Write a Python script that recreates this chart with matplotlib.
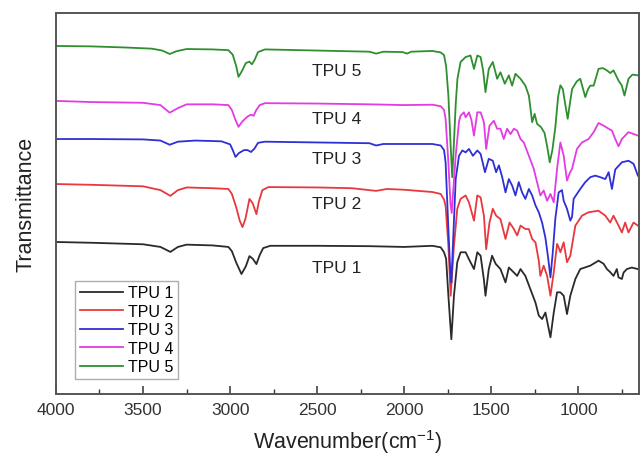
import numpy as np
import matplotlib.pyplot as plt

# FTIR spectra of the TPU samples, (wavenumber cm-1, transmittance a.u.)
tpu1 = [(4000, 39.9), (3800, 39.7), (3500, 39.3), (3400, 38.6), (3343, 37.3), (3300, 38.6), (3250, 39.2),
        (3100, 39.0), (3010, 38.6), (2990, 37.5), (2965, 34.5), (2935, 31.5), (2910, 33.5), (2889, 36.2),
        (2870, 35.5), (2849, 34.1), (2830, 36.5), (2810, 38.3), (2770, 38.9), (2500, 38.9), (2200, 38.8),
        (2000, 38.6), (1839, 38.9), (1791, 38.5), (1772, 37.2), (1760, 35.5), (1747, 25.8), (1730, 14.4),
        (1715, 25.8), (1696, 34.6), (1677, 37.2), (1648, 37.2), (1629, 35.4), (1600, 32.8), (1581, 37.2),
        (1562, 36.3), (1543, 30.0), (1534, 25.8), (1515, 32.8), (1496, 36.3), (1476, 34.2), (1448, 32.8),
        (1419, 29.3), (1400, 33.2), (1371, 31.9), (1352, 31.0), (1333, 32.8), (1305, 31.0), (1276, 27.5),
        (1247, 24.0), (1228, 20.6), (1209, 19.7), (1190, 21.4), (1161, 14.9), (1142, 21.4), (1123, 26.7),
        (1104, 26.7), (1085, 25.8), (1066, 21.0), (1047, 25.8), (1018, 30.2), (990, 32.8), (932, 33.7),
        (885, 35.0), (856, 34.2), (837, 32.8), (818, 32.0), (799, 31.0), (780, 32.8), (770, 30.6),
        (751, 30.2), (741, 31.9), (722, 32.8), (694, 33.2), (659, 32.8)]

tpu2 = [(4000, 55.1), (3800, 54.9), (3500, 54.5), (3400, 53.5), (3343, 52.0), (3300, 53.5), (3250, 54.2),
        (3100, 54.0), (3010, 53.8), (2990, 52.5), (2965, 49.0), (2945, 45.5), (2929, 43.8), (2912, 46.0),
        (2889, 51.2), (2870, 50.0), (2849, 47.2), (2835, 50.5), (2815, 53.5), (2780, 54.3), (2500, 54.2),
        (2300, 54.0), (2162, 53.3), (2100, 53.8), (2000, 53.6), (1839, 53.0), (1791, 52.5), (1772, 51.0),
        (1763, 49.4), (1747, 38.9), (1734, 25.8), (1715, 38.9), (1696, 48.6), (1677, 51.2), (1648, 52.1),
        (1629, 50.3), (1600, 45.5), (1581, 52.1), (1562, 51.6), (1543, 46.8), (1530, 38.0), (1511, 45.0),
        (1492, 48.6), (1473, 46.8), (1448, 45.9), (1419, 40.7), (1396, 45.0), (1371, 43.3), (1352, 41.6),
        (1333, 44.2), (1305, 43.3), (1285, 43.3), (1266, 40.7), (1247, 39.8), (1228, 35.0), (1219, 31.0),
        (1200, 33.7), (1180, 31.0), (1161, 25.8), (1142, 32.0), (1123, 39.4), (1114, 38.5), (1104, 37.2),
        (1085, 39.8), (1066, 34.6), (1047, 36.3), (1018, 44.2), (980, 46.8), (942, 47.7), (885, 48.1),
        (846, 46.8), (818, 45.0), (799, 46.8), (770, 44.2), (751, 42.4), (732, 45.0), (713, 42.4),
        (684, 45.0), (659, 44.2)]

tpu3 = [(4000, 66.9), (3800, 66.9), (3500, 66.8), (3400, 66.5), (3347, 65.4), (3300, 66.2), (3200, 66.5),
        (3050, 66.3), (3000, 65.5), (2985, 64.0), (2969, 62.2), (2950, 63.2), (2920, 64.0), (2900, 64.0),
        (2880, 63.5), (2860, 64.4), (2840, 65.9), (2800, 66.2), (2500, 66.0), (2200, 65.8), (2162, 65.2),
        (2120, 65.6), (2000, 65.6), (1839, 65.6), (1791, 65.2), (1772, 64.0), (1763, 60.8), (1747, 43.3),
        (1736, 32.0), (1730, 29.3), (1720, 40.0), (1705, 56.4), (1686, 62.5), (1667, 63.9), (1648, 63.4),
        (1629, 64.3), (1606, 62.5), (1581, 63.9), (1562, 63.0), (1537, 58.2), (1515, 61.7), (1492, 61.2),
        (1473, 58.2), (1457, 60.0), (1438, 56.9), (1419, 52.9), (1400, 56.4), (1381, 54.7), (1362, 52.1),
        (1343, 55.6), (1324, 52.9), (1305, 51.2), (1285, 53.8), (1266, 52.1), (1247, 49.5), (1228, 47.7),
        (1209, 45.0), (1190, 41.0), (1175, 36.0), (1161, 30.6), (1148, 37.0), (1133, 46.0), (1114, 52.9),
        (1095, 53.5), (1085, 50.7), (1066, 48.6), (1047, 45.5), (1037, 46.5), (1028, 51.2), (1009, 52.5),
        (990, 53.8), (961, 55.6), (932, 56.9), (904, 57.3), (875, 56.9), (846, 56.4), (827, 58.2),
        (808, 53.8), (789, 58.9), (751, 60.8), (713, 61.2), (684, 60.4), (659, 57.3)]

tpu4 = [(4000, 76.9), (3800, 76.6), (3500, 76.4), (3400, 75.8), (3347, 73.8), (3300, 75.0), (3250, 76.0),
        (3100, 76.0), (3010, 75.8), (2990, 74.5), (2970, 72.0), (2952, 70.1), (2930, 71.5), (2900, 72.8),
        (2880, 73.3), (2865, 73.0), (2850, 74.5), (2830, 75.8), (2800, 76.3), (2500, 76.2), (2200, 76.0),
        (2000, 75.8), (1839, 75.9), (1791, 75.5), (1772, 74.5), (1763, 72.2), (1747, 60.8), (1735, 50.0),
        (1728, 47.5), (1718, 54.0), (1705, 62.5), (1686, 71.5), (1677, 73.0), (1658, 73.9), (1648, 72.6),
        (1629, 73.9), (1615, 72.0), (1600, 67.8), (1590, 71.0), (1581, 73.9), (1562, 73.9), (1543, 71.3),
        (1530, 64.3), (1511, 70.4), (1486, 71.7), (1467, 69.6), (1448, 69.6), (1429, 66.9), (1410, 69.6),
        (1390, 68.2), (1371, 69.6), (1352, 69.1), (1333, 66.9), (1314, 66.0), (1285, 62.5), (1257, 59.1),
        (1238, 55.6), (1219, 52.1), (1200, 53.4), (1180, 50.7), (1161, 52.5), (1142, 50.3), (1123, 59.1),
        (1104, 66.0), (1085, 62.5), (1066, 56.0), (1050, 58.0), (1037, 59.1), (1009, 64.3), (980, 66.0),
        (942, 66.9), (913, 68.7), (885, 71.1), (856, 70.4), (827, 69.6), (808, 69.1), (789, 66.9),
        (770, 65.0), (751, 66.9), (713, 68.7), (659, 67.8)]

tpu5 = [(4000, 91.3), (3800, 91.2), (3600, 90.9), (3450, 90.6), (3390, 90.1), (3347, 89.2), (3310, 89.9),
        (3250, 90.5), (3100, 90.4), (3010, 90.2), (2985, 89.0), (2965, 86.0), (2952, 83.2), (2935, 84.5),
        (2910, 86.8), (2890, 87.2), (2875, 86.5), (2860, 87.6), (2840, 89.7), (2800, 90.4), (2600, 90.2),
        (2400, 90.0), (2200, 89.8), (2162, 89.3), (2120, 89.8), (2010, 89.7), (1985, 89.3), (1960, 89.8),
        (1839, 90.0), (1791, 89.6), (1772, 88.9), (1760, 86.0), (1747, 78.3), (1734, 65.2), (1725, 56.9),
        (1715, 66.0), (1705, 76.0), (1695, 82.7), (1677, 87.1), (1648, 88.4), (1620, 88.8), (1600, 85.3),
        (1581, 88.8), (1562, 88.4), (1548, 85.0), (1534, 79.2), (1515, 85.3), (1492, 87.1), (1467, 82.7),
        (1448, 84.4), (1423, 81.4), (1400, 83.6), (1381, 80.9), (1362, 84.0), (1333, 82.7), (1305, 80.9),
        (1285, 78.3), (1266, 71.3), (1252, 73.5), (1238, 70.9), (1215, 70.0), (1195, 68.5), (1180, 65.0),
        (1165, 60.8), (1150, 64.0), (1133, 70.0), (1117, 78.0), (1104, 81.0), (1090, 80.0), (1075, 75.7),
        (1062, 72.2), (1050, 76.0), (1037, 80.0), (1010, 82.0), (990, 82.7), (961, 77.9), (945, 80.0),
        (932, 80.9), (913, 80.9), (885, 85.3), (860, 85.5), (837, 84.9), (818, 84.2), (799, 84.9),
        (770, 82.2), (752, 81.0), (736, 78.3), (713, 82.7), (690, 83.8), (659, 83.6)]

names = ["TPU 1", "TPU 2", "TPU 3", "TPU 4", "TPU 5"]
spectra = [tpu1, tpu2, tpu3, tpu4, tpu5]
colors = ["#2a2a2a", "#e8383d", "#2f2fd6", "#e23ce2", "#2f8f2f"]

# подписи у кривых: (x, y) в единицах данных
label_pos = [(2391, 33.3), (2391, 49.9), (2391, 61.7), (2391, 72.2), (2391, 84.8)]

plt.rcParams["font.family"] = ["Liberation Sans", "DejaVu Sans"]
plt.rcParams["mathtext.fontset"] = "custom"
plt.rcParams["mathtext.rm"] = "Liberation Sans"
plt.rcParams["mathtext.default"] = "rm"

fig = plt.figure(figsize=(6.43, 4.60), dpi=100)
ax = fig.add_axes([0.087, 0.141, 0.9075, 0.829])

for name, data, color in zip(names, spectra, colors):
    arr = np.array(data)
    ax.plot(arr[:, 0], arr[:, 1], color=color, linewidth=1.3, label=name,
            solid_joinstyle="round")

for name, (x, y) in zip(names, label_pos):
    ax.text(x, y, name, fontsize=12.5, color="#222222", ha="center", va="center")

ax.set_xlim(4000, 650)
ax.set_ylim(0, 100)
ax.set_xticks([4000, 3500, 3000, 2500, 2000, 1500, 1000])
ax.set_xticks(np.arange(3750, 650, -500), minor=True)
ax.tick_params(axis="x", which="major", direction="in", length=6, width=1.1,
               labelsize=12.5, pad=6, colors="#333333")
ax.tick_params(axis="x", which="minor", direction="in", length=3.5, width=1.0, colors="#333333")
ax.set_yticks([])

for sp in ax.spines.values():
    sp.set_color("#555555")
    sp.set_linewidth(1.4)

ax.set_xlabel("Wavenumber(cm$^{-1}$)", fontsize=15.5, color="#222222", labelpad=7)
ax.set_ylabel("Transmittance", fontsize=15.5, color="#222222", labelpad=14)

leg = ax.legend(loc="lower left", bbox_to_anchor=(0.033, 0.039), borderaxespad=0,
                fontsize=11.5, frameon=True, fancybox=False, edgecolor="#999999",
                handlelength=2.7, handletextpad=0.3, labelspacing=0.22, borderpad=0.3)
leg.get_frame().set_linewidth(1.0)

fig.savefig("out.png", dpi=100)
